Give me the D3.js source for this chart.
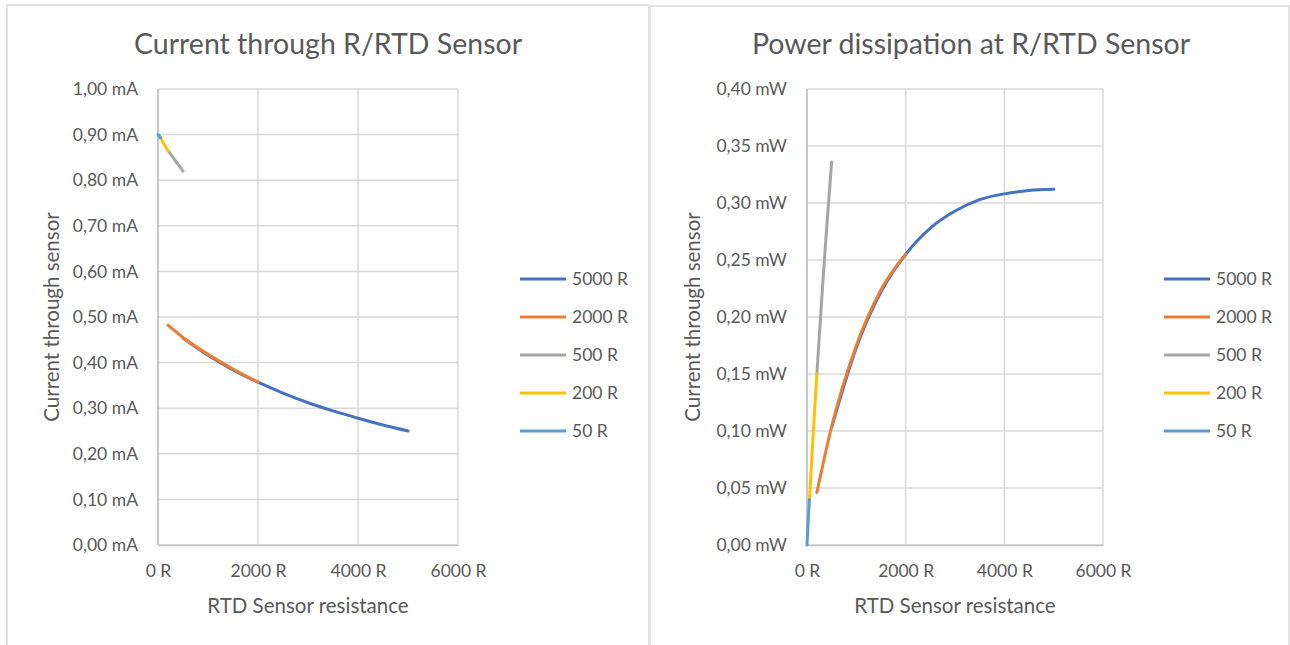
<!DOCTYPE html>
<html>
<head>
<meta charset="utf-8">
<script src="https://cdn.jsdelivr.net/npm/d3@7"></script>
<style>
  html, body { margin: 0; padding: 0; background: #fff; }
  svg { display: block; font-family: Lato, "Open Sans", sans-serif; }
</style>
</head>
<body>
<svg id="chart" width="1290" height="645"></svg>
<script>
// ---------- data ----------
const seriesNames = ["5000 R", "2000 R", "500 R", "200 R", "50 R"];
const seriesColors = ["#4472C4", "#ED7D31", "#A5A5A5", "#FFC000", "#5B9BD5"];

const xTicks = [0, 2000, 4000, 6000];
const currentTicks = [0, 0.1, 0.2, 0.3, 0.4, 0.5, 0.6, 0.7, 0.8, 0.9, 1.0];
const powerTicks = [0, 0.05, 0.10, 0.15, 0.20, 0.25, 0.30, 0.35, 0.40];

// resistance (ohm) per series
const r5000 = [500, 1000, 1500, 2000, 2500, 3000, 3500, 4000, 4500, 5000];
const r2000 = [200, 500, 1000, 1500, 2000];
const r500  = [200, 300, 400, 500];
const r200  = [50, 100, 150, 200];
const r50   = [0, 25, 50];

// current through sensor (mA)
const current5000 = [0.454, 0.416, 0.384, 0.357, 0.333, 0.312, 0.294, 0.278, 0.263, 0.250];
const current2000 = [0.482, 0.455, 0.418, 0.386, 0.357];
const current500  = [0.865, 0.850, 0.835, 0.820];
const current200  = [0.893, 0.883, 0.874, 0.865];
const current50   = [0.900, 0.897, 0.893];

// power dissipation (mW)
const power5000 = [0.103, 0.173, 0.222, 0.255, 0.278, 0.293, 0.303, 0.308, 0.311, 0.312];
const power2000 = [0.046, 0.104, 0.175, 0.224, 0.255];
const power500  = [0.150, 0.217, 0.279, 0.336];
const power200  = [0.040, 0.078, 0.115, 0.150];
const power50   = [0.000, 0.022, 0.040];

const resistances = [r5000, r2000, r500, r200, r50];
const currents = [current5000, current2000, current500, current200, current50];
const powers = [power5000, power2000, power500, power200, power50];

// ---------- drawing ----------
const svg = d3.select("#chart");
const comma = v => d3.format(".2f")(v).replace(".", ",");

function drawPanel(cfg) {
  const g = svg.append("g");
  // panel frame
  g.append("rect")
    .attr("x", cfg.frame[0]).attr("y", cfg.frame[1])
    .attr("width", cfg.frame[2]).attr("height", cfg.frame[3])
    .attr("fill", "#fff").attr("stroke", "#e3e3e3").attr("stroke-width", 2);

  const x = d3.scaleLinear().domain([0, 6000]).range([cfg.plot.left, cfg.plot.right]);
  const y = d3.scaleLinear().domain(cfg.yDomain).range([cfg.plot.bottom, cfg.plot.top]);

  // grid
  g.append("g").selectAll("line.h").data(cfg.yTicks).join("line")
    .attr("x1", x(0)).attr("x2", x(6000))
    .attr("y1", d => y(d)).attr("y2", d => y(d))
    .attr("stroke", "#d9d9d9").attr("stroke-width", 1.5);
  g.append("g").selectAll("line.v").data(xTicks).join("line")
    .attr("x1", d => x(d)).attr("x2", d => x(d))
    .attr("y1", y(cfg.yDomain[0])).attr("y2", y(cfg.yDomain[1]))
    .attr("stroke", "#d9d9d9").attr("stroke-width", 1.5);

  // axes (labels only, lines from grid)
  const yAxis = d3.axisLeft(y).tickValues(cfg.yTicks).tickSize(0).tickPadding(20)
    .tickFormat(d => comma(d) + " " + cfg.unit);
  const ya = g.append("g").attr("transform", `translate(${x(0)},0)`).call(yAxis);
  ya.select(".domain").remove();
  ya.selectAll("text").attr("fill", "#595959").style("font-size", "17.5px")
    .style("font-family", "Lato, 'Open Sans', sans-serif");

  const xAxis = d3.axisBottom(x).tickValues(xTicks).tickSize(0).tickPadding(20)
    .tickFormat(d => d + " R");
  const xa = g.append("g").attr("transform", `translate(0,${y(cfg.yDomain[0])})`).call(xAxis);
  xa.select(".domain").attr("stroke", "#bfbfbf").attr("stroke-width", 1.5);
  xa.selectAll("text").attr("fill", "#595959").style("font-size", "17.5px")
    .style("font-family", "Lato, 'Open Sans', sans-serif");
  g.append("line")
    .attr("x1", x(0)).attr("x2", x(0))
    .attr("y1", y(cfg.yDomain[0])).attr("y2", y(cfg.yDomain[1]))
    .attr("stroke", "#bfbfbf").attr("stroke-width", 1.5);

  // series
  const line = d3.line().x(d => x(d[0])).y(d => y(d[1])).curve(d3.curveMonotoneX);
  seriesNames.forEach((name, i) => {
    const pts = resistances[i].map((r, j) => [r, cfg.values[i][j]]);
    g.append("path").datum(pts)
      .attr("d", line)
      .attr("fill", "none")
      .attr("stroke", seriesColors[i])
      .attr("stroke-width", 3)
      .attr("stroke-linecap", "round");
  });

  // title
  g.append("text").attr("x", cfg.titleX).attr("y", 54)
    .attr("text-anchor", "middle").attr("fill", "#595959")
    .style("font-size", "28.5px").text(cfg.title);

  // axis titles
  g.append("text").attr("x", (x(0) + x(6000)) / 2).attr("y", 613)
    .attr("text-anchor", "middle").attr("fill", "#595959")
    .style("font-size", "20.5px").text("RTD Sensor resistance");
  g.append("text")
    .attr("transform", `translate(${cfg.yTitleX},${(y(cfg.yDomain[0]) + y(cfg.yDomain[1])) / 2}) rotate(-90)`)
    .attr("text-anchor", "middle").attr("fill", "#595959")
    .style("font-size", "20.5px").text("Current through sensor");

  // legend
  const lg = g.append("g");
  seriesNames.forEach((name, i) => {
    const ly = cfg.legend.top + i * 38;
    lg.append("line")
      .attr("x1", cfg.legend.x).attr("x2", cfg.legend.x + 46)
      .attr("y1", ly).attr("y2", ly)
      .attr("stroke", seriesColors[i]).attr("stroke-width", 3);
    lg.append("text").attr("x", cfg.legend.x + 52).attr("y", ly)
      .attr("dy", "0.35em").attr("fill", "#595959")
      .style("font-size", "17.5px").text(name);
  });
}

drawPanel({
  frame: [7, 5, 642, 660],
  plot: { left: 158, right: 458, top: 89, bottom: 545 },
  yDomain: [0, 1.0],
  yTicks: currentTicks,
  unit: "mA",
  values: currents,
  title: "Current through R/RTD Sensor",
  titleX: 328,
  yTitleX: 59,
  legend: { x: 520, top: 279 }
});

drawPanel({
  frame: [650, 6, 639, 660],
  plot: { left: 807, right: 1103, top: 89, bottom: 545 },
  yDomain: [0, 0.4],
  yTicks: powerTicks,
  unit: "mW",
  values: powers,
  title: "Power dissipation at R/RTD Sensor",
  titleX: 971,
  yTitleX: 700,
  legend: { x: 1164, top: 279 }
});
</script>
</body>
</html>
